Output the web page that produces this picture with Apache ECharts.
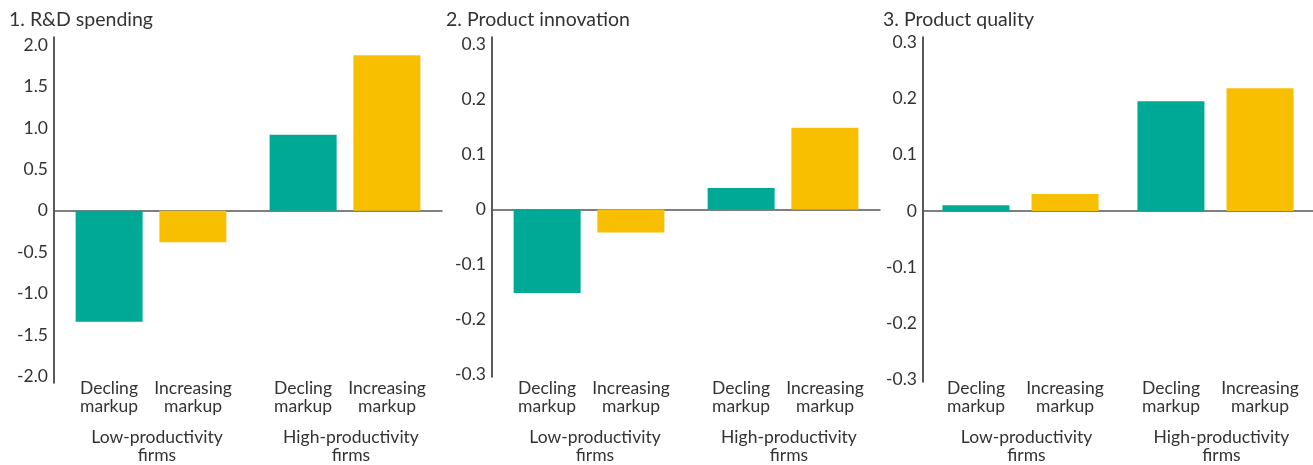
<!DOCTYPE html>
<html>
<head>
<meta charset="utf-8">
<script src="https://cdn.jsdelivr.net/npm/echarts@6/dist/echarts.min.js"></script>
<style>
  html, body { margin: 0; padding: 0; background: #ffffff; }
  #chart { width: 1313px; height: 465px; }
</style>
</head>
<body>
<div id="chart"></div>
<script>
// Categories
const subCategories = ['Decling markup', 'Increasing markup'];
const groups = ['Low-productivity firms', 'High-productivity firms'];
const panelTitles = ['1. R&D spending', '2. Product innovation', '3. Product quality'];

// Series values: [low-productivity, high-productivity]
const rdDecl = [-1.34, 0.92];
const rdIncr = [-0.38, 1.88];
const innovDecl = [-0.152, 0.039];
const innovIncr = [-0.042, 0.149];
const qualDecl = [0.010, 0.195];
const qualIncr = [0.030, 0.218];

// Tick labels
const rdTicks = [-2.0, -1.5, -1.0, -0.5, 0, 0.5, 1.0, 1.5, 2.0];
const shareTicks = [-0.3, -0.2, -0.1, 0, 0.1, 0.2, 0.3];

const FONT = 'Lato';
const TEXT = '#333333';
const TEAL = '#00A896';
const GOLD = '#F8BF00';
const LABEL_SIZE = 17.5;

const panels = [
  { title: panelTitles[0], decl: rdDecl, incr: rdIncr, ticks: rdTicks, min: -2.08, max: 2.1,
    grid: { left: 54, top: 37, width: 388, height: 346 }, titleLeft: 9, labelMargin: -4, gap: 84, barGap: '25%' },
  { title: panelTitles[1], decl: innovDecl, incr: innovIncr, ticks: shareTicks, min: -0.305, max: 0.314,
    grid: { left: 492, top: 37, width: 388, height: 340 }, titleLeft: 446, labelMargin: 2, gap: 84, barGap: '25%' },
  { title: panelTitles[2], decl: qualDecl, incr: qualIncr, ticks: shareTicks, min: -0.304, max: 0.309,
    grid: { left: 923, top: 37, width: 396, height: 345 }, titleLeft: 883, labelMargin: -3, gap: 89, barGap: '33%' }
];

function tickText(v) {
  return v === 0 ? '0' : v.toFixed(1);
}

function splitLast(s) {
  const i = s.lastIndexOf(' ');
  return [s.slice(0, i), s.slice(i + 1)];
}

function groupLabel(value) {
  const a = subCategories.map(splitLast);
  const g = splitLast(value);
  return '{s|' + a[0][0] + '}{s|' + a[1][0] + '}\n' +
         '{s|' + a[0][1] + '}{s|' + a[1][1] + '}\n' +
         '{sp| }\n' +
         '{g|' + g[0] + '}\n{g|' + g[1] + '}';
}

const option = {
  animation: false,
  backgroundColor: '#ffffff',
  textStyle: { fontFamily: FONT, color: TEXT },
  title: panels.map(p => ({
    text: p.title,
    left: p.titleLeft,
    top: 10,
    padding: 0,
    textStyle: { fontFamily: FONT, fontSize: 19.5, fontWeight: 'normal', color: TEXT }
  })),
  grid: panels.map(p => Object.assign({ containLabel: false }, p.grid)),
  xAxis: [],
  yAxis: [],
  series: []
};

panels.forEach((p, k) => {
  // axis carrying the zero line
  option.xAxis.push({
    type: 'category',
    gridIndex: k,
    data: groups,
    axisLine: { onZero: true, lineStyle: { color: '#555555', width: 1.5 } },
    axisTick: { show: false },
    axisLabel: { show: false },
    splitLine: { show: false }
  });
  // axis carrying the two-level category labels at the bottom
  option.xAxis.push({
    type: 'category',
    gridIndex: k,
    data: groups,
    position: 'bottom',
    axisLine: { show: false, onZero: false },
    axisTick: { show: false },
    splitLine: { show: false },
    axisLabel: {
      interval: 0,
      margin: p.labelMargin,
      color: TEXT,
      fontFamily: FONT,
      formatter: groupLabel,
      rich: {
        s: { width: p.gap, align: 'center', fontSize: LABEL_SIZE, lineHeight: 18, fontFamily: FONT, color: TEXT },
        sp: { fontSize: 2, lineHeight: 13 },
        g: { align: 'center', fontSize: LABEL_SIZE, lineHeight: 18, fontFamily: FONT, color: TEXT, padding: [0, 0, 0, 12] }
      }
    }
  });
  option.yAxis.push({
    type: 'value',
    gridIndex: k,
    min: p.min,
    max: p.max,
    axisLine: { show: true, onZero: false, lineStyle: { color: '#222222', width: 1.5 } },
    axisTick: { show: false },
    splitLine: { show: false },
    axisLabel: {
      customValues: p.ticks,
      formatter: tickText,
      margin: 6,
      fontSize: LABEL_SIZE,
      fontFamily: FONT,
      color: TEXT
    }
  });
  option.series.push({
    type: 'bar',
    name: subCategories[0],
    xAxisIndex: 2 * k,
    yAxisIndex: k,
    data: p.decl,
    barWidth: 67,
    barGap: p.barGap,
    itemStyle: { color: TEAL },
    z: 3
  });
  option.series.push({
    type: 'bar',
    name: subCategories[1],
    xAxisIndex: 2 * k,
    yAxisIndex: k,
    data: p.incr,
    barWidth: 67,
    barGap: p.barGap,
    itemStyle: { color: GOLD },
    z: 3
  });
});

const chart = echarts.init(document.getElementById('chart'), null, { renderer: 'canvas' });
chart.setOption(option);
</script>
</body>
</html>
